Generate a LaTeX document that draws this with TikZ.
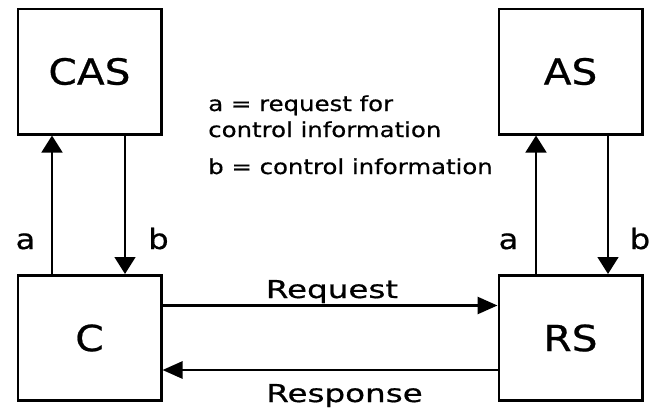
\documentclass[tikz,border=0pt]{standalone}
\usepackage{fontspec}
\setmainfont{DejaVu Sans}
\newfontfamily\fbig[FakeStretch=1.13,FakeBold=0.6]{DejaVu Sans}
\newfontfamily\fmid[FakeStretch=1.15,FakeBold=0.6]{DejaVu Sans}
\newfontfamily\fmsg[FakeStretch=1.32,FakeBold=0.6]{DejaVu Sans}
\newfontfamily\fsml[FakeStretch=1.18,FakeBold=0.6]{DejaVu Sans}
\usetikzlibrary{arrows.meta,calc}
\tikzset{
  boxnode/.style={draw, line width=2pt, minimum width=107.5pt, minimum height=94pt, inner sep=0pt, font=\fbig\fontsize{27pt}{32pt}\selectfont},
  vconn/.style={line width=2pt, -{Triangle[length=12.75pt,width=15.5pt]}},
  hconn/.style={line width=2pt, -{Triangle[length=15pt,width=12.75pt]}},
  lbl/.style={anchor=base, inner sep=0pt, font=\fmid\fontsize{21pt}{25pt}\selectfont},
  msg/.style={anchor=base, inner sep=0pt, font=\fmsg\fontsize{18.5pt}{22pt}\selectfont},
  legend/.style={anchor=base west, inner sep=0pt, align=left, font=\fsml\fontsize{15.5pt}{19.5pt}\selectfont}
}
\begin{document}
\begin{tikzpicture}[x=0.75pt,y=-0.75pt]
\useasboundingbox (0,0) rectangle (649,407);
\node[boxnode] (CAS) at (89.5,71.5) {CAS};
\node[boxnode] (AS) at (570.5,71.5) {AS};
\node[boxnode] (C) at (89.5,338) {C};
\node[boxnode] (RS) at (570.5,338) {RS};
\draw[vconn] ($(C.north)+(-37.5,0)$) -- ($(CAS.south)+(-37.5,0)$);
\draw[vconn] ($(CAS.south)+(35.5,0)$) -- ($(C.north)+(35.5,0)$);
\draw[vconn] ($(RS.north)+(-34.5,0)$) -- ($(AS.south)+(-34.5,0)$);
\draw[vconn] ($(AS.south)+(37.5,0)$) -- ($(RS.north)+(37.5,0)$);
\draw[hconn] ($(C.east)+(0,-32.5)$) -- ($(RS.west)+(0,-32.5)$);
\draw[hconn] ($(RS.west)+(0,32)$) -- ($(C.east)+(0,32)$);
\node[lbl] (la1) at (25.5,249) {a};
\node[lbl] (lb1) at (158.5,249) {b};
\node[lbl] (la2) at (508.5,249) {a};
\node[lbl] (lb2) at (640,249) {b};
\node[msg] (req) at (332,298) {Request};
\node[msg] (resp) at (344.5,402) {Response};
\node[legend] (lega) at (208,137) {a = request for\\control information};
\node[legend] (legb) at (208,174) {b = control information};
\end{tikzpicture}
\end{document}
